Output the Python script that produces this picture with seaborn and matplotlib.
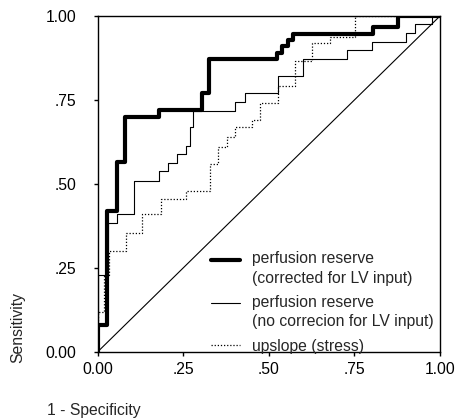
import matplotlib
matplotlib.use("Agg")
import matplotlib.pyplot as plt
from matplotlib.legend_handler import HandlerLine2D
import seaborn as sns

# ROC curve vertices (1 - specificity, sensitivity)
fpr_corrected = [0, 0, 0.028, 0.028, 0.057, 0.057, 0.079, 0.079, 0.18, 0.18, 0.305, 0.305,
                 0.325, 0.325, 0.525, 0.525, 0.54, 0.54, 0.555, 0.555, 0.57, 0.57,
                 0.805, 0.805, 0.878, 0.878, 1.0]
tpr_corrected = [0, 0.08, 0.08, 0.42, 0.42, 0.566, 0.566, 0.70, 0.70, 0.72, 0.72, 0.77,
                 0.77, 0.873, 0.873, 0.89, 0.89, 0.91, 0.91, 0.93, 0.93, 0.946,
                 0.946, 0.967, 0.967, 1.0, 1.0]

fpr_nocorr = [0, 0, 0.03, 0.03, 0.057, 0.057, 0.108, 0.108, 0.18, 0.18, 0.207, 0.207,
              0.233, 0.233, 0.257, 0.257, 0.27, 0.27, 0.28, 0.28, 0.40, 0.40, 0.43, 0.43,
              0.527, 0.527, 0.60, 0.60, 0.728, 0.728, 0.80, 0.80, 0.90, 0.90, 0.927, 0.927,
              0.976, 0.976, 1.0]
tpr_nocorr = [0, 0.23, 0.23, 0.385, 0.385, 0.41, 0.41, 0.51, 0.51, 0.54, 0.54, 0.563,
              0.563, 0.59, 0.59, 0.614, 0.614, 0.67, 0.67, 0.717, 0.717, 0.745, 0.745, 0.772,
              0.772, 0.82, 0.82, 0.873, 0.873, 0.90, 0.90, 0.924, 0.924, 0.95, 0.95, 0.976,
              0.976, 1.0, 1.0]

fpr_upslope = [0, 0, 0.018, 0.018, 0.035, 0.035, 0.083, 0.083, 0.13, 0.13, 0.184, 0.184,
               0.257, 0.257, 0.329, 0.329, 0.353, 0.353, 0.378, 0.378, 0.402, 0.402,
               0.451, 0.451, 0.475, 0.475, 0.528, 0.528, 0.577, 0.577, 0.626, 0.626,
               0.68, 0.68, 0.752, 0.752, 1.0]
tpr_upslope = [0, 0.12, 0.12, 0.23, 0.23, 0.30, 0.30, 0.353, 0.353, 0.41, 0.41, 0.455,
               0.455, 0.48, 0.48, 0.56, 0.56, 0.61, 0.61, 0.64, 0.64, 0.67,
               0.67, 0.69, 0.69, 0.74, 0.74, 0.792, 0.792, 0.866, 0.866, 0.92,
               0.92, 0.937, 0.937, 1.0, 1.0]

diag = [0, 1]

labels = ["perfusion reserve\n(corrected for LV input)",
          "perfusion reserve\n(no correcion for LV input)",
          "upslope (stress)"]
tick_vals = [0, 0.25, 0.5, 0.75, 1.0]
tick_labels = ["0.00", ".25", ".50", ".75", "1.00"]

sns.set_theme(style="ticks")
plt.rcParams["font.family"] = ["Liberation Sans", "DejaVu Sans"]
plt.rcParams["font.size"] = 11.3

fig = plt.figure(figsize=(4.57, 4.19), dpi=100)
ax = fig.add_axes([97.5 / 457, 1 - 352 / 419, (440 - 97.5) / 457, (352 - 16) / 419])

l1 = sns.lineplot(x=fpr_corrected, y=tpr_corrected, sort=False, estimator=None, ax=ax,
                  color="black", linewidth=3.0).lines[-1]
l2 = sns.lineplot(x=fpr_nocorr, y=tpr_nocorr, sort=False, estimator=None, ax=ax,
                  color="black", linewidth=0.8).lines[-1]
l3 = sns.lineplot(x=fpr_upslope, y=tpr_upslope, sort=False, estimator=None, ax=ax,
                  color="black", linewidth=0.9, linestyle=(0, (1, 1.5))).lines[-1]
sns.lineplot(x=diag, y=diag, sort=False, estimator=None, ax=ax,
             color="black", linewidth=0.8)

ax.set_xlim(0, 1)
ax.set_ylim(0, 1)
ax.set_xticks(tick_vals)
ax.set_xticklabels(tick_labels)
ax.set_yticks(tick_vals)
ax.set_yticklabels(tick_labels)
ax.set_xlabel("")
ax.set_ylabel("")
for s in ax.spines.values():
    s.set_visible(True)
    s.set_linewidth(1.0)
    s.set_color("black")
ax.tick_params(axis="both", direction="out", length=3, width=1, colors="black",
               labelsize=11.3)
ax.tick_params(axis="y", pad=12)
ax.tick_params(axis="x", pad=4)


class FirstLineHandler(HandlerLine2D):
    """Place the legend line level with the first line of a two-line label."""
    def __init__(self, shift=0, **kw):
        super().__init__(**kw)
        self.shift = shift

    def create_artists(self, legend, orig_handle, xdescent, ydescent, width, height,
                       fontsize, trans):
        return super().create_artists(legend, orig_handle, xdescent,
                                      ydescent - 2 * self.shift, width, height,
                                      fontsize, trans)


leg = ax.legend([l1, l2, l3], labels, loc="lower left", bbox_to_anchor=(0.33, -0.005),
                frameon=False, fontsize=11.3, handlelength=1.9, handletextpad=0.75,
                labelspacing=0.6, borderpad=0, borderaxespad=0,
                handler_map={l1: FirstLineHandler(shift=6.8),
                             l2: FirstLineHandler(shift=6.8)})
for t in leg.get_texts():
    t.set_linespacing(1.35)

fig.text(18 / 457, 1 - 327 / 419, "Sensitivity", rotation=90, ha="center",
         va="center", fontsize=11.3)
fig.text(47 / 457, 1 - 410 / 419, "1 - Specificity", ha="left", va="center",
         fontsize=11.3)

fig.savefig("out.png", dpi=100)
